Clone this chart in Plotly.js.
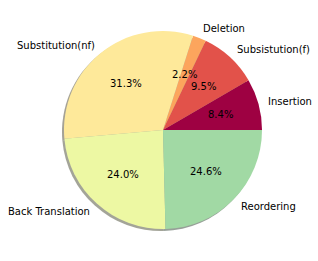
<!DOCTYPE html>
<html><head><meta charset="utf-8">
<script src="https://cdn.plot.ly/plotly-3.0.1.min.js"></script>
<style>html,body{margin:0;padding:0;background:#fff}</style>
</head><body><div id="chart" style="width:318px;height:261px"></div>
<script>
const labels = ['Insertion','Subsistution(f)','Deletion','Substitution(nf)','Back Translation','Reordering'];
const values = [8.4, 9.5, 2.2, 31.3, 24.0, 24.6];
const colors = ['#9e0142','#e2524a','#fca55d','#fee99a','#edf8a3','#a1d9a4'];

const W = 318, H = 261;
const cx = 163, cy = 130, R = 99;
const shadowOff = 2;

function hexToRgb(h){return [parseInt(h.slice(1,3),16),parseInt(h.slice(3,5),16),parseInt(h.slice(5,7),16)];}
const shadowColors = colors.map(c=>{const [r,g,b]=hexToRgb(c);return `rgba(${Math.round(r*0.3)},${Math.round(g*0.3)},${Math.round(b*0.3)},0.5)`;});

const total = values.reduce((a,b)=>a+b,0);
const rot = 90 - values[0]/total*360;

const dom = (x0,y0)=>({x:[(x0-R)/W,(x0+R)/W], y:[1-(y0+R)/H, 1-(y0-R)/H]});

const shadow = {type:'pie', labels:labels, values:values, sort:false, direction:'counterclockwise', rotation:rot,
  marker:{colors:shadowColors, line:{width:0}}, textinfo:'none', hoverinfo:'skip', showlegend:false,
  domain:dom(cx-shadowOff, cy+shadowOff)};
const pie = {type:'pie', labels:labels, values:values, sort:false, direction:'counterclockwise', rotation:rot,
  marker:{colors:colors, line:{width:0}}, textinfo:'none', hoverinfo:'skip', showlegend:false,
  domain:dom(cx, cy)};

const annotations = [];
let a0 = 0;
values.forEach((v,i)=>{
  const span = v/total*360;
  const mid = (a0 + span/2)*Math.PI/180;
  a0 += span;
  const lx = cx + 1.1*R*Math.cos(mid), ly = cy - 1.1*R*Math.sin(mid);
  const px = cx + 0.6*R*Math.cos(mid), py = cy - 0.6*R*Math.sin(mid);
  annotations.push({xref:'paper', yref:'paper', x:lx/W, y:1-ly/H, text:labels[i], showarrow:false,
    xanchor: Math.cos(mid)>0 ? 'left':'right', yanchor:'middle', borderpad:0, borderwidth:0,
    font:{family:'DejaVu Sans', size:10, color:'#000'}});
  annotations.push({xref:'paper', yref:'paper', x:px/W, y:1-py/H, text:(v/total*100).toFixed(1)+'%', showarrow:false,
    xanchor:'center', yanchor:'middle', borderpad:0, borderwidth:0,
    font:{family:'DejaVu Sans', size:10, color:'#000'}});
});

Plotly.newPlot('chart', [shadow, pie], {
  width:W, height:H, margin:{l:0,r:0,t:0,b:0}, paper_bgcolor:'#fff', plot_bgcolor:'#fff',
  showlegend:false, annotations:annotations
}, {staticPlot:true, displayModeBar:false});
</script></body></html>
